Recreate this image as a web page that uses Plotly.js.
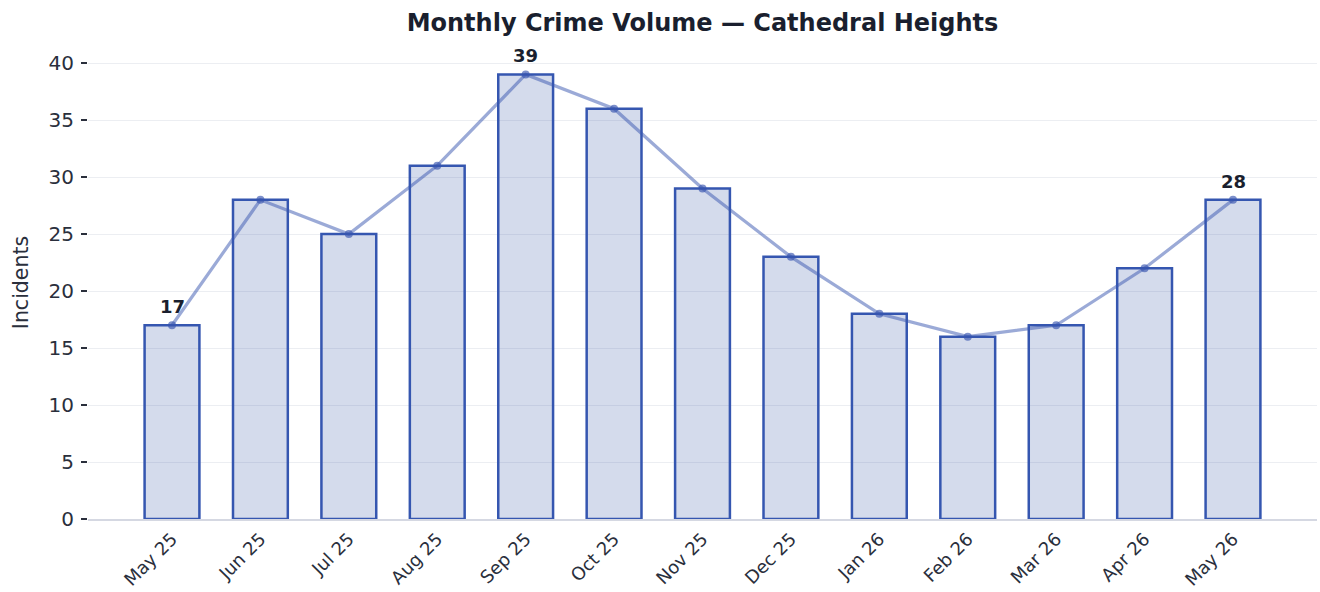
<!DOCTYPE html>
<html>
<head>
<meta charset="utf-8">
<script src="https://cdn.plot.ly/plotly-3.0.1.min.js"></script>
<style>html,body{margin:0;padding:0;background:#fff;}#chart{width:1320px;height:592px;}</style>
</head>
<body>
<div id="chart"></div>
<script>
const months = ["May 25","Jun 25","Jul 25","Aug 25","Sep 25","Oct 25","Nov 25","Dec 25","Jan 26","Feb 26","Mar 26","Apr 26","May 26"];
const incidents = [17,28,25,31,39,36,29,23,18,16,17,22,28];
const labelIdx = [0,4,12];

const bar = {
  type:'bar', x:months, y:incidents, width:0.62,
  marker:{color:'rgba(60,90,170,0.22)', line:{color:'#3556b0', width:2.5}},
  hoverinfo:'x+y', showlegend:false
};
const line = {
  type:'scatter', mode:'lines+markers', x:months, y:incidents,
  line:{color:'rgba(55,85,175,0.5)', width:3.2},
  marker:{color:'rgba(55,85,175,0.65)', size:8},
  showlegend:false, cliponaxis:false
};
const annotations = labelIdx.map(i => ({
  x: months[i], y: incidents[i], xref:'x', yref:'y',
  text: '<b>' + incidents[i] + '</b>', showarrow:false,
  yanchor:'bottom', yshift:6,
  font:{family:'DejaVu Sans', size:18, color:'#1a1f2e'}
}));
const layout = {
  width:1320, height:592,
  margin:{l:88, r:3, t:46, b:73},
  paper_bgcolor:'#fff', plot_bgcolor:'#fff',
  font:{family:'DejaVu Sans', color:'#2a2f3c', size:19},
  title:{text:'<b>Monthly Crime Volume — Cathedral Heights</b>', xref:'paper', x:0.5, xanchor:'center', y:0.962, yanchor:'middle', font:{family:'DejaVu Sans', size:24, color:'#1a1f2e'}},
  xaxis:{type:'category', range:[-0.95,12.95], tickangle:-45, showgrid:false, showline:true, linecolor:'#d5d8e2', linewidth:1.5, ticks:'', tickfont:{size:18}, ticklabelstandoff:1, zeroline:false},
  yaxis:{range:[0,41.5], tickvals:[0,5,10,15,20,25,30,35,40], showgrid:true, gridcolor:'#eceef2', gridwidth:1, ticks:'outside', ticklen:6, tickwidth:1.5, tickcolor:'#2a2f3c', zeroline:false, showline:false, tickfont:{size:20}, ticklabelstandoff:3,
    title:{text:'Incidents', font:{size:20.5}, standoff:14}},
  annotations: annotations,
  bargap:0.38
};
Plotly.newPlot('chart',[bar,line],layout,{displayModeBar:false, staticPlot:true});
</script>
</body>
</html>
